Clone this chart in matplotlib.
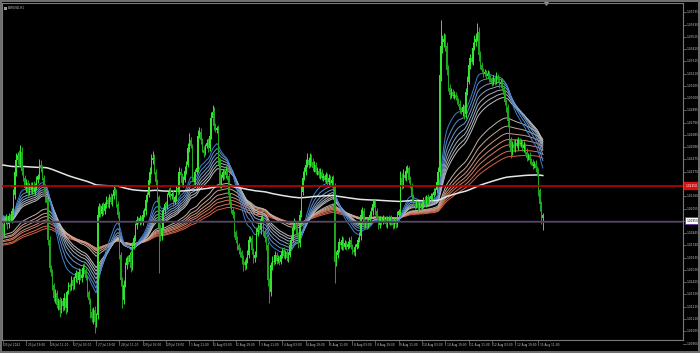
import numpy as np
import matplotlib
matplotlib.use("Agg")
import matplotlib.pyplot as plt
from matplotlib.patches import Rectangle

# --- data: EURUSD H1 closes, one per bar, starting 25 Jul 2022 03:00 ---
closes = [
    1.0185, 1.0194, 1.0197, 1.0192, 1.0199, 1.0196, 1.0203, 1.0217, 1.0237, 1.0247,
    1.0251, 1.0244, 1.0254, 1.0238, 1.0232, 1.0223, 1.0227, 1.0220, 1.0225, 1.0221,
    1.0226, 1.0220, 1.0223, 1.0230, 1.0233, 1.0243, 1.0240, 1.0232, 1.0223, 1.0215,
    1.0210, 1.0179, 1.0155, 1.0151, 1.0140, 1.0129, 1.0133, 1.0123, 1.0127, 1.0119,
    1.0126, 1.0122, 1.0129, 1.0120, 1.0134, 1.0140, 1.0138, 1.0144, 1.0139, 1.0146,
    1.0150, 1.0144, 1.0151, 1.0146, 1.0149, 1.0155, 1.0153, 1.0146, 1.0134, 1.0127,
    1.0117, 1.0112, 1.0119, 1.0108, 1.0114, 1.0200, 1.0206, 1.0201, 1.0208, 1.0203,
    1.0209, 1.0213, 1.0209, 1.0215, 1.0211, 1.0216, 1.0221, 1.0220, 1.0209, 1.0200,
    1.0166, 1.0144, 1.0127, 1.0140, 1.0157, 1.0163, 1.0160, 1.0166, 1.0155, 1.0174,
    1.0180, 1.0191, 1.0196, 1.0194, 1.0197, 1.0194, 1.0200, 1.0203, 1.0213, 1.0217,
    1.0230, 1.0237, 1.0247, 1.0249, 1.0237, 1.0228, 1.0215, 1.0189, 1.0182, 1.0189,
    1.0204, 1.0209, 1.0208, 1.0217, 1.0220, 1.0216, 1.0218, 1.0211, 1.0215, 1.0223,
    1.0220, 1.0237, 1.0234, 1.0227, 1.0230, 1.0238, 1.0243, 1.0257, 1.0264, 1.0259,
    1.0232, 1.0228, 1.0237, 1.0240, 1.0268, 1.0271, 1.0264, 1.0256, 1.0253, 1.0259,
    1.0262, 1.0257, 1.0268, 1.0283, 1.0288, 1.0276, 1.0273, 1.0274, 1.0247, 1.0226,
    1.0232, 1.0237, 1.0234, 1.0238, 1.0233, 1.0217, 1.0209, 1.0204, 1.0200, 1.0185,
    1.0179, 1.0174, 1.0170, 1.0168, 1.0163, 1.0160, 1.0157, 1.0161, 1.0166, 1.0179,
    1.0180, 1.0170, 1.0163, 1.0166, 1.0185, 1.0189, 1.0187, 1.0196, 1.0197, 1.0185,
    1.0180, 1.0174, 1.0144, 1.0134, 1.0157, 1.0161, 1.0160, 1.0166, 1.0161, 1.0163,
    1.0160, 1.0166, 1.0170, 1.0165, 1.0168, 1.0163, 1.0166, 1.0174, 1.0179, 1.0189,
    1.0194, 1.0191, 1.0183, 1.0176, 1.0200, 1.0220, 1.0232, 1.0237, 1.0243, 1.0247,
    1.0243, 1.0249, 1.0245, 1.0240, 1.0243, 1.0237, 1.0238, 1.0234, 1.0237, 1.0232,
    1.0233, 1.0230, 1.0234, 1.0228, 1.0232, 1.0227, 1.0230, 1.0225, 1.0160, 1.0166,
    1.0170, 1.0177, 1.0174, 1.0179, 1.0173, 1.0176, 1.0173, 1.0175, 1.0179, 1.0173,
    1.0170, 1.0168, 1.0173, 1.0175, 1.0179, 1.0182, 1.0200, 1.0203, 1.0191, 1.0194,
    1.0191, 1.0196, 1.0200, 1.0203, 1.0209, 1.0211, 1.0203, 1.0197, 1.0191, 1.0196,
    1.0194, 1.0197, 1.0196, 1.0192, 1.0197, 1.0194, 1.0197, 1.0193, 1.0191, 1.0195,
    1.0192, 1.0200, 1.0203, 1.0232, 1.0226, 1.0234, 1.0232, 1.0238, 1.0240, 1.0230,
    1.0225, 1.0215, 1.0209, 1.0208, 1.0210, 1.0206, 1.0209, 1.0207, 1.0209, 1.0213,
    1.0210, 1.0215, 1.0211, 1.0214, 1.0216, 1.0217, 1.0220, 1.0221, 1.0228, 1.0237,
    1.0320, 1.0345, 1.0348, 1.0351, 1.0345, 1.0324, 1.0309, 1.0303, 1.0305, 1.0302,
    1.0303, 1.0300, 1.0298, 1.0295, 1.0290, 1.0288, 1.0292, 1.0286, 1.0305, 1.0314,
    1.0328, 1.0334, 1.0331, 1.0343, 1.0348, 1.0351, 1.0357, 1.0337, 1.0328, 1.0324,
    1.0321, 1.0322, 1.0319, 1.0321, 1.0317, 1.0316, 1.0313, 1.0317, 1.0314, 1.0319,
    1.0316, 1.0312, 1.0314, 1.0309, 1.0303, 1.0297, 1.0292, 1.0280, 1.0264, 1.0254,
    1.0260, 1.0257, 1.0262, 1.0259, 1.0264, 1.0261, 1.0262, 1.0257, 1.0260, 1.0254,
    1.0249, 1.0251, 1.0247, 1.0245, 1.0242, 1.0244, 1.0240, 1.0237, 1.0221, 1.0209,
    1.0197, 1.0200,
]
first_open = 1.0190

# wick lengths in pips beyond the candle body
upper_wick_pips = [
    3, 2, 4, 2, 3, 2, 3, 5, 4, 6, 3, 5, 6, 4, 3, 2, 4, 3, 2, 3,
    2, 3, 4, 3, 2, 5, 4, 3, 2, 3, 2, 4, 3, 2, 3, 2, 4, 3, 2, 3,
    3, 2, 4, 3, 2, 3, 2, 4, 3, 2, 3, 2, 4, 3, 2, 3, 4, 2, 3, 2,
    2, 3, 2, 3, 2, 8, 4, 3, 2, 3, 2, 3, 2, 3, 4, 2, 5, 3, 2, 3,
    3, 2, 3, 4, 3, 2, 3, 2, 4, 3, 3, 2, 3, 2, 3, 2, 4, 3, 2, 3,
    3, 4, 5, 6, 3, 2, 3, 2, 3, 2, 3, 2, 3, 2, 3, 4, 2, 3, 2, 3,
    2, 4, 3, 2, 3, 4, 3, 5, 6, 3, 2, 3, 2, 4, 5, 4, 3, 2, 3, 2,
    3, 4, 3, 5, 6, 4, 3, 2, 3, 2, 3, 2, 3, 4, 2, 3, 2, 3, 2, 3,
    2, 3, 2, 3, 2, 3, 2, 3, 4, 3, 2, 3, 2, 3, 4, 3, 2, 4, 3, 2,
    3, 2, 3, 2, 3, 4, 2, 3, 2, 3, 2, 3, 2, 3, 2, 3, 2, 3, 4, 3,
    3, 2, 3, 2, 4, 5, 6, 4, 5, 6, 3, 4, 3, 4, 3, 2, 3, 2, 3, 2,
    3, 2, 3, 2, 3, 2, 3, 4, 2, 3, 2, 3, 2, 3, 2, 3, 2, 3, 2, 3,
    2, 3, 2, 3, 2, 3, 5, 4, 3, 2, 3, 2, 3, 4, 5, 3, 2, 3, 2, 3,
    2, 3, 2, 3, 2, 3, 2, 3, 2, 3, 2, 3, 2, 6, 4, 5, 3, 4, 3, 2,
    3, 2, 3, 2, 3, 2, 3, 2, 3, 2, 3, 2, 3, 2, 3, 2, 3, 2, 3, 4,
    8, 22, 6, 5, 4, 3, 4, 3, 4, 3, 3, 2, 3, 2, 3, 2, 3, 2, 4, 5,
    5, 4, 3, 5, 6, 5, 7, 4, 3, 3, 2, 3, 2, 3, 2, 3, 2, 3, 2, 3,
    2, 3, 2, 3, 2, 3, 2, 3, 4, 3, 3, 4, 3, 4, 3, 2, 3, 2, 3, 2,
    3, 2, 3, 2, 3, 2, 3, 2, 3, 2, 3, 2,
]
lower_wick_pips = [
    5, 3, 2, 4, 3, 2, 3, 2, 3, 4, 3, 2, 3, 4, 3, 2, 3, 4, 3, 2,
    3, 2, 3, 2, 3, 2, 3, 2, 3, 4, 3, 5, 4, 3, 4, 3, 4, 3, 4, 6,
    3, 4, 3, 5, 3, 2, 3, 2, 3, 2, 3, 2, 3, 2, 3, 2, 3, 2, 4, 3,
    5, 4, 5, 9, 4, 3, 2, 3, 2, 3, 2, 3, 2, 3, 2, 3, 2, 3, 2, 3,
    4, 5, 7, 3, 2, 3, 2, 3, 4, 2, 3, 2, 3, 2, 3, 2, 3, 2, 3, 2,
    2, 3, 2, 3, 2, 3, 4, 39, 4, 3, 2, 3, 2, 3, 2, 3, 2, 3, 2, 3,
    3, 2, 3, 2, 3, 2, 3, 2, 3, 2, 3, 2, 3, 2, 3, 2, 3, 2, 3, 2,
    2, 3, 2, 3, 2, 3, 2, 3, 4, 3, 3, 2, 3, 2, 3, 2, 3, 2, 3, 4,
    3, 4, 3, 4, 5, 8, 4, 3, 2, 3, 2, 3, 4, 3, 2, 3, 2, 3, 2, 3,
    3, 4, 5, 9, 3, 4, 3, 2, 3, 2, 3, 2, 3, 2, 3, 2, 3, 2, 3, 2,
    2, 3, 2, 4, 3, 2, 3, 2, 3, 2, 3, 2, 3, 2, 3, 2, 3, 2, 3, 2,
    3, 2, 3, 2, 3, 2, 3, 2, 18, 4, 3, 2, 3, 4, 3, 2, 3, 2, 3, 2,
    3, 2, 3, 2, 3, 2, 3, 2, 3, 2, 3, 2, 3, 2, 3, 2, 3, 2, 3, 2,
    3, 2, 3, 2, 3, 2, 3, 2, 3, 2, 3, 2, 3, 3, 4, 3, 2, 3, 2, 3,
    2, 3, 2, 3, 2, 3, 2, 3, 2, 3, 2, 3, 2, 3, 2, 3, 2, 3, 2, 3,
    4, 5, 6, 4, 5, 4, 3, 4, 3, 2, 3, 2, 3, 2, 3, 2, 3, 4, 3, 2,
    2, 3, 2, 3, 2, 3, 2, 5, 3, 2, 3, 2, 3, 2, 3, 2, 3, 2, 3, 2,
    2, 3, 2, 3, 2, 3, 4, 5, 6, 5, 3, 2, 3, 2, 3, 2, 3, 2, 3, 2,
    3, 2, 3, 2, 3, 2, 3, 4, 5, 6, 5, 10,
]

# moving-average ribbon (periods and starting values read at the left edge)
fast_periods = [20, 25, 30, 35, 40, 45, 50]
fast_seeds = [1.0201, 1.0200, 1.0199, 1.0198, 1.0197, 1.0196, 1.0195]
slow_periods = [80, 95, 110, 125, 140, 160, 180]
slow_seeds = [1.0183, 1.0181, 1.0180, 1.0178, 1.0177, 1.0175, 1.0174]
long_period = 450
long_seed = 1.0243

red_level = 1.02250
purple_level = 1.01950

time_labels = [
    "25 Jul 2022", "25 Jul 19:00", "26 Jul 11:00", "27 Jul 03:00", "27 Jul 19:00",
    "28 Jul 11:00", "29 Jul 03:00", "29 Jul 19:00", "1 Aug 11:00", "2 Aug 03:00",
    "2 Aug 19:00", "3 Aug 11:00", "4 Aug 03:00", "4 Aug 19:00", "5 Aug 11:00",
    "8 Aug 03:00", "8 Aug 19:00", "9 Aug 11:00", "10 Aug 03:00", "10 Aug 19:00",
    "11 Aug 11:00", "12 Aug 03:00", "12 Aug 19:00", "15 Aug 11:00",
]
bars_per_label = 16

price_labels = [
    "1.00900", "1.01005", "1.01110", "1.01215", "1.01320", "1.01425", "1.01530",
    "1.01635", "1.01740", "1.01845", "1.01950", "1.02055", "1.02160", "1.02265",
    "1.02370", "1.02475", "1.02580", "1.02685", "1.02790", "1.02895", "1.03000",
    "1.03105", "1.03210", "1.03315", "1.03420", "1.03525", "1.03630", "1.03735",
]

BG = "black"
GRID_GRAY = "#7a7a7a"
TEXT_GRAY = "#c8c8c8"
BULL = "#33e633"
BEAR = "#1fa81f"
FAST_COLORS = ["#3f7fcf", "#5a8fcf", "#7499c9", "#8ca5c4", "#a1b0bf", "#b3b8bd", "#c2c2c2"]
SLOW_COLORS = ["#c2b2a6", "#c8a592", "#cc9880", "#d08b70", "#d47c60", "#d86d52", "#dc5e44"]
SMALL = 2.1


def ema_from_seed(values, period, seed):
    alpha = 2.0 / (period + 1)
    out = np.empty(len(values))
    prev = seed
    for k, v in enumerate(values):
        prev = prev + alpha * (v - prev)
        out[k] = prev
    return out


c = np.array(closes)
o = np.concatenate([[first_open], c[:-1]])
pip = 0.0001
hi = np.maximum(o, c) + np.array(upper_wick_pips) * pip
lo = np.minimum(o, c) - np.array(lower_wick_pips) * pip
x = np.arange(len(c))

W, H = 700, 353
fig = plt.figure(figsize=(W / 100, H / 100), dpi=100, facecolor=BG)
ax = fig.add_axes([2 / W, 13 / H, 681 / W, 337 / H], facecolor=BG)

xmin = -0.69
ax.set_xlim(xmin, xmin + 681 / 1.455)
ax.set_ylim(1.00930, 1.03814)

# ribbon lines (slow first so the fast ones sit on top)
for p, s, col in zip(slow_periods[::-1], slow_seeds[::-1], SLOW_COLORS[::-1]):
    ax.plot(x, ema_from_seed(c, p, s), color=col, lw=0.7, zorder=2)
for p, s, col in zip(fast_periods[::-1], fast_seeds[::-1], FAST_COLORS[::-1]):
    ax.plot(x, ema_from_seed(c, p, s), color=col, lw=0.7, zorder=3)
ax.plot(x, ema_from_seed(c, long_period, long_seed), color="#e6e6e6", lw=1.1, zorder=3)

# candles
up = c >= o
cols = np.where(up, BULL, BEAR)
ax.vlines(x, lo, hi, colors=cols, lw=0.7, zorder=4)
body = np.maximum(np.abs(c - o), 0.00003)
ax.bar(x, body, bottom=np.minimum(o, c), width=0.85, color=cols, linewidth=0, zorder=5)

# horizontal levels
ax.axhline(red_level, color="#c00000", lw=1.2, zorder=6)
ax.axhline(purple_level, color="#6a2fa8", lw=1.0, zorder=6)
ax.axhline(purple_level - 0.00008, color="#3a3a3a", lw=0.6, zorder=6)

for s in ax.spines.values():
    s.set_color(GRID_GRAY)
    s.set_linewidth(0.8)
ax.set_xticks([])
ax.set_yticks([])

# price scale on the right (labels hidden under the level boxes are not drawn)
ytr = ax.get_yaxis_transform()
for lab in price_labels:
    v = float(lab)
    ax.plot([1.0, 1.004], [v, v], color=GRID_GRAY, lw=0.5, transform=ytr, clip_on=False)
    if min(abs(v - red_level), abs(v - purple_level)) < 0.0004:
        continue
    ax.text(1.0055, v, lab, transform=ytr, color=TEXT_GRAY, fontsize=SMALL,
            va="center", ha="left", clip_on=False)

ax.text(1.0035, red_level, f"{red_level:.5f}", transform=ytr, color="white", fontsize=SMALL,
        va="center", ha="left", zorder=10, clip_on=False,
        bbox=dict(boxstyle="square,pad=0.45", fc="#d81010", ec="#d81010"))
ax.text(1.0055, purple_level, f"{purple_level:.5f}", transform=ytr, color="black", fontsize=SMALL,
        va="center", ha="left", zorder=10, clip_on=False,
        bbox=dict(boxstyle="square,pad=0.45", fc="white", ec="#6a2fa8", lw=0.6))

# time scale at the bottom
xtr = ax.get_xaxis_transform()
for k, lab in enumerate(time_labels):
    xi = k * bars_per_label
    ax.plot([xi, xi], [0, -0.014], color=GRID_GRAY, lw=0.5, transform=xtr, clip_on=False)
    ax.text(xi + 1.0, -0.01, lab, transform=xtr, color=TEXT_GRAY, fontsize=SMALL,
            va="top", ha="left", clip_on=False)

# chart shift marker and symbol caption
ax.plot([len(c) + 1], [1.0], marker="v", ms=2.5, color="#9a9a9a", transform=xtr, clip_on=False)
ax.text(0.009, 0.99, "EURUSD,H1", transform=ax.transAxes, color=TEXT_GRAY, fontsize=SMALL,
        va="top", ha="left")
ax.add_patch(Rectangle((0.003, 0.98), 0.005, 0.007, transform=ax.transAxes,
                       color="#9a9a9a", lw=0))

# window frame
for rect in [(0, 0, 2 / W, 1), (0, 1 - 2 / H, 1, 2 / H), (1 - 2 / W, 0, 2 / W, 1), (0, 0, 1, 2 / H)]:
    fig.patches.append(Rectangle(rect[:2], rect[2], rect[3], transform=fig.transFigure,
                                 color="#6e6e6e", lw=0))

fig.savefig("out.png", dpi=100, facecolor=BG)
